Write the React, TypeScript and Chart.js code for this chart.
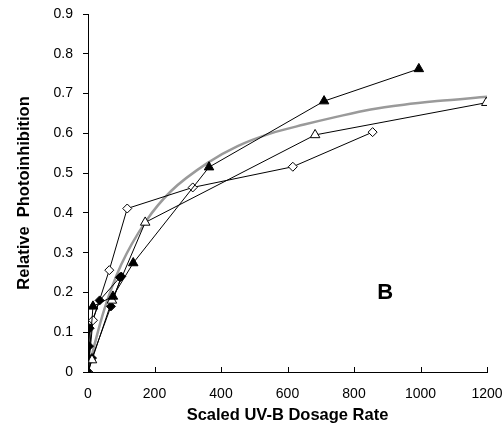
import React, { useEffect, useRef } from "react";
import { Chart, registerables } from "chart.js";

Chart.register(...registerables);

const xTicks = [0, 200, 400, 600, 800, 1000, 1200];
const yTicks = [0, 0.1, 0.2, 0.3, 0.4, 0.5, 0.6, 0.7, 0.8, 0.9];

const filledTriX = [0, 15, 75, 136, 364, 710, 995];
const filledTriY = [0, 0.165, 0.19, 0.274, 0.515, 0.681, 0.762];

const openTriX = [0, 12, 72, 172, 683, 1198];
const openTriY = [0, 0.03, 0.18, 0.376, 0.596, 0.677];

const openDiaX = [0, 15, 64, 118, 315, 616, 856];
const openDiaY = [0, 0.13, 0.256, 0.411, 0.464, 0.516, 0.603];

const filledDiaX = [0, 3, 5, 35, 96];
const filledDiaY = [0, 0.065, 0.11, 0.18, 0.238];

const filledDia2X = [0, 12, 69, 100];
const filledDia2Y = [0, 0.035, 0.165, 0.24];

const curveX = [0, 20, 50, 100, 175, 250, 364, 450, 550, 650, 750, 850, 950, 1050, 1200];
const curveY = [0, 0.07, 0.16, 0.27, 0.38, 0.455, 0.528, 0.568, 0.6, 0.622, 0.642, 0.66, 0.672, 0.681, 0.692];

const panelLabel = "B";
const panelLabelAt = { x: 870, y: 0.183 };

const FONT = "'Liberation Sans', Arial, Helvetica, sans-serif";

const pts = (xs: number[], ys: number[]) => xs.map((x, i) => ({ x, y: ys[i] }));

export default function App() {
  const ref = useRef<HTMLCanvasElement | null>(null);
  useEffect(() => {
    if (!ref.current) return;
    Chart.defaults.color = "#000";
    const marker = (style: string, filled: boolean, xs: number[], ys: number[], order: number) => ({
      data: pts(xs, ys),
      showLine: true,
      borderColor: "#000",
      borderWidth: 1,
      backgroundColor: filled ? "#000" : "#fff",
      pointStyle: style,
      pointRadius: style === "triangle" ? 5.5 : 4.5,
      pointBorderColor: "#000",
      pointBackgroundColor: filled ? "#000" : "#fff",
      pointBorderWidth: 1,
      order,
    });
    const xTickPlugin = {
      id: "xInnerTicks",
      afterDraw(chart: any) {
        const ctx = chart.ctx;
        const xs = chart.scales.x;
        const ys = chart.scales.y;
        const base = ys.getPixelForValue(0);
        ctx.save();
        ctx.strokeStyle = "#000";
        ctx.lineWidth = 1;
        xTicks.forEach((v) => {
          const px = Math.round(xs.getPixelForValue(v)) + 0.5;
          ctx.beginPath();
          ctx.moveTo(px, base);
          ctx.lineTo(px, base - 5);
          ctx.stroke();
        });
        ctx.font = `bold 22px ${FONT}`;
        ctx.fillStyle = "#000";
        ctx.textAlign = "left";
        ctx.textBaseline = "alphabetic";
        ctx.fillText(panelLabel, xs.getPixelForValue(panelLabelAt.x), ys.getPixelForValue(panelLabelAt.y));
        ctx.restore();
      },
    };
    const chart = new Chart(ref.current, {
      type: "scatter",
      data: {
        datasets: [
          {
            data: pts(curveX, curveY),
            showLine: true,
            borderColor: "#9a9a9a",
            borderWidth: 2.5,
            pointRadius: 0,
            cubicInterpolationMode: "monotone",
            order: 5,
          } as any,
          marker("triangle", true, filledTriX, filledTriY, 1),
          marker("triangle", false, openTriX, openTriY, 2),
          marker("rectRot", false, openDiaX, openDiaY, 3),
          marker("rectRot", true, filledDiaX, filledDiaY, 4),
          marker("rectRot", true, filledDia2X, filledDia2Y, 4),
        ],
      },
      options: {
        animation: false,
        responsive: true,
        maintainAspectRatio: false,
        layout: { padding: { top: 14, right: 17, left: 0, bottom: 0 } },
        plugins: { legend: { display: false }, tooltip: { enabled: false } },
        scales: {
          x: {
            type: "linear",
            min: 0,
            max: 1200,
            afterBuildTicks: (s: any) => {
              s.ticks = xTicks.map((v) => ({ value: v }));
            },
            afterFit: (s: any) => {
              s.height = 59;
              s.paddingLeft = 0;
              s.paddingRight = 0;
            },
            grid: { display: false, drawTicks: false },
            border: { display: true, color: "#000", width: 1 },
            ticks: {
              padding: 14,
              font: { family: FONT, size: 14 },
              color: "#000",
              maxRotation: 0,
              callback: (v: any) => String(v),
            },
            title: {
              display: true,
              text: "Scaled UV-B Dosage Rate",
              font: { family: FONT, size: 16.5, weight: "bold" },
              color: "#000",
              padding: { top: 0, bottom: 6 },
            },
          },
          y: {
            type: "linear",
            min: 0,
            max: 0.9,
            afterBuildTicks: (s: any) => {
              s.ticks = yTicks.map((v) => ({ value: v }));
            },
            afterFit: (s: any) => {
              s.width = 88;
              s.paddingTop = 0;
              s.paddingBottom = 0;
            },
            grid: { display: true, drawOnChartArea: false, drawTicks: true, tickLength: 5, color: "#000" },
            border: { display: true, color: "#000", width: 1 },
            ticks: {
              padding: 10,
              font: { family: FONT, size: 14 },
              color: "#000",
              callback: (v: any) => String(Number(Number(v).toFixed(1))),
            },
            title: {
              display: true,
              text: "Relative  Photoinhibition",
              font: { family: FONT, size: 16.5, weight: "bold" },
              color: "#000",
              padding: { top: 15, bottom: 0 },
            },
          },
        },
      },
      plugins: [xTickPlugin],
    } as any);
    return () => chart.destroy();
  }, []);
  return (
    <div style={{ position: "absolute", left: 0, top: 0, width: 504, height: 431, background: "#fff" }}>
      <canvas ref={ref} />
    </div>
  );
}
